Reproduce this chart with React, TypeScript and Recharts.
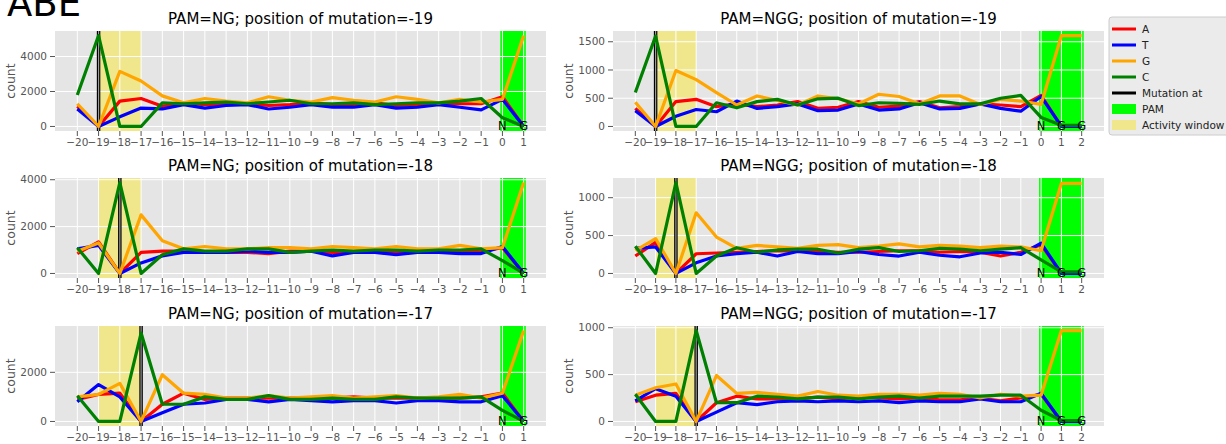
import React from 'react';
import {
  LineChart, Line, XAxis, YAxis, CartesianGrid, ReferenceArea, ReferenceLine, ReferenceDot,
} from 'recharts';

// ---------- data ----------
const positionsNG = [-20, -19, -18, -17, -16, -15, -14, -13, -12, -11, -10, -9, -8, -7, -6, -5, -4, -3, -2, -1, 0, 1];
const positionsNGG = [-20, -19, -18, -17, -16, -15, -14, -13, -12, -11, -10, -9, -8, -7, -6, -5, -4, -3, -2, -1, 0, 1, 2];
const pamLettersNG = ['N', 'G'];
const pamLettersNGG = ['N', 'G', 'G'];
const activityWindow = [-19, -17];
const seriesNames = ['A', 'T', 'G', 'C'];
const seriesColors = ['#FF0000', '#0000FF', '#FFA500', '#008000'];

// PAM=NG, mutation at -19
const ng19A = [1150, 0, 1450, 1600, 1150, 1350, 1250, 1300, 1300, 1200, 1250, 1350, 1250, 1250, 1350, 1200, 1250, 1300, 1300, 1300, 1700, 0];
const ng19T = [1000, 0, 550, 1050, 1000, 1250, 1050, 1200, 1250, 1000, 1100, 1250, 1100, 1100, 1250, 1050, 1100, 1250, 1100, 950, 1550, 0];
const ng19G = [1300, 0, 3150, 2600, 1750, 1350, 1600, 1450, 1350, 1700, 1500, 1400, 1650, 1500, 1400, 1700, 1550, 1350, 1550, 1400, 1550, 5200];
const ng19C = [1800, 5200, 0, 0, 1350, 1300, 1350, 1400, 1300, 1400, 1500, 1300, 1300, 1350, 1250, 1300, 1350, 1350, 1450, 1600, 500, 0];

// PAM=NGG, mutation at -19
const ngg19A = [320, 0, 440, 480, 350, 400, 350, 380, 440, 320, 340, 440, 340, 360, 440, 330, 350, 400, 380, 350, 550, 0, 0];
const ngg19T = [280, 0, 180, 300, 260, 450, 320, 350, 400, 280, 290, 400, 290, 310, 420, 310, 320, 400, 320, 270, 530, 0, 0];
const ngg19G = [430, 0, 990, 830, 600, 380, 540, 460, 380, 540, 490, 400, 570, 530, 400, 540, 540, 390, 480, 450, 390, 1610, 1610];
const ngg19C = [600, 1600, 0, 0, 420, 330, 440, 480, 380, 490, 500, 370, 420, 410, 390, 450, 400, 400, 500, 550, 160, 20, 20];

// PAM=NG, mutation at -18
const ng18A = [850, 1350, 0, 900, 950, 950, 900, 900, 900, 850, 950, 950, 900, 900, 950, 900, 900, 950, 900, 950, 1100, 0];
const ng18T = [1050, 1200, 0, 450, 750, 900, 900, 900, 950, 900, 900, 950, 750, 900, 900, 800, 900, 900, 850, 850, 1150, 0];
const ng18G = [950, 1300, 0, 2500, 1400, 1050, 1150, 1050, 1050, 1100, 1100, 1050, 1150, 1100, 1050, 1150, 1050, 1050, 1200, 1050, 1100, 3880];
const ng18C = [1100, 0, 3880, 0, 800, 1050, 950, 950, 1050, 1050, 900, 950, 1000, 950, 1000, 1000, 950, 1000, 1000, 1050, 550, 0];

// PAM=NGG, mutation at -18
const ngg18A = [230, 410, 0, 260, 270, 280, 290, 300, 290, 290, 280, 280, 290, 300, 300, 280, 290, 280, 230, 280, 380, 0, 0];
const ngg18T = [330, 350, 0, 140, 230, 260, 280, 230, 290, 260, 260, 290, 250, 230, 280, 240, 220, 270, 280, 250, 400, 0, 0];
const ngg18G = [300, 460, 0, 800, 480, 330, 370, 350, 330, 370, 380, 340, 360, 390, 350, 370, 360, 340, 360, 350, 300, 1190, 1190];
const ngg18C = [360, 0, 1200, 0, 230, 340, 280, 310, 320, 320, 270, 320, 340, 290, 300, 330, 320, 300, 320, 340, 180, 20, 20];

// PAM=NG, mutation at -17
const ng17A = [900, 1100, 1150, 0, 700, 1150, 900, 950, 950, 950, 950, 950, 950, 1000, 950, 950, 950, 950, 950, 1000, 1150, 0];
const ng17T = [800, 1500, 1000, 0, 350, 700, 750, 900, 900, 800, 900, 850, 800, 850, 850, 750, 850, 850, 800, 800, 1050, 0];
const ng17G = [1000, 1100, 1550, 0, 1900, 1150, 1100, 950, 950, 1050, 950, 1000, 1050, 950, 1000, 1050, 950, 1000, 1100, 950, 1150, 3700];
const ng17C = [1050, 0, 0, 3600, 700, 700, 1000, 900, 900, 1050, 900, 900, 950, 900, 900, 1000, 950, 950, 950, 1000, 450, 0];

// PAM=NGG, mutation at -17
const ngg17A = [210, 280, 300, 0, 200, 270, 240, 240, 240, 260, 240, 260, 250, 240, 250, 230, 230, 250, 220, 250, 290, 0, 0];
const ngg17T = [220, 350, 270, 0, 100, 200, 180, 210, 220, 210, 220, 210, 220, 200, 220, 210, 210, 240, 210, 210, 300, 0, 0];
const ngg17G = [280, 360, 400, 0, 490, 300, 310, 290, 270, 320, 280, 270, 290, 290, 280, 300, 290, 250, 290, 270, 280, 970, 970];
const ngg17C = [290, 0, 0, 970, 200, 200, 270, 260, 240, 260, 260, 240, 260, 270, 250, 270, 270, 270, 280, 280, 120, 10, 10];

const yTicksNG19 = [0, 2000, 4000];
const yTicksNGG19 = [0, 500, 1000, 1500];
const yTicksNG18 = [0, 2000, 4000];
const yTicksNGG18 = [0, 500, 1000];
const yTicksNG17 = [0, 2000];
const yTicksNGG17 = [0, 500, 1000];

const legendLabels = ['A', 'T', 'G', 'C', 'Mutation at', 'PAM', 'Activity window'];

// ---------- layout ----------
const FONT = '"DejaVu Sans", sans-serif';
const YW = 45;
const XH = 24;
const MT = 10;
const PW = 491;
const PH = 100;
const COL_X = [55, 613];
const ROW_Y = [31, 178, 326];
const TITLE_BASE = [24, 171, 319];

const fmt = (v: number) => String(v).replace('-', '\u2212');

type PanelProps = {
  left: number; top: number; positions: number[]; series: number[][];
  yTicks: number[]; mutation: number; letters: string[]; xDomain: [number, number];
};

function Panel({ left, top, positions, series, yTicks, mutation, letters, xDomain }: PanelProps) {
  const data = positions.map((p, i) => {
    const row: Record<string, number> = { pos: p };
    seriesNames.forEach((n, k) => { row[n] = series[k][i]; });
    return row;
  });
  const maxV = Math.max(...series.flat());
  const yDomain: [number, number] = [-0.05 * maxV, 1.05 * maxV];
  const pamEnd = positions[positions.length - 1];
  const W = YW + PW;
  const H = MT + PH + XH;
  return (
    <div style={{ position: 'absolute', left: left - YW, top: top - MT, width: W, height: H }}>
      <LineChart width={W} height={H} data={data} margin={{ top: MT, right: 0, bottom: 0, left: 0 }}>
        <CartesianGrid fill="#E5E5E5" fillOpacity={1} stroke="none" horizontal={false} vertical={false} />
        <XAxis type="number" dataKey="pos" domain={xDomain} ticks={positions} interval={0} allowDataOverflow
          tickFormatter={fmt} axisLine={false} tickLine={{ stroke: '#555555' }} tickSize={5} tickMargin={3}
          tick={{ fill: '#555555', fontSize: 10.5, fontFamily: FONT }} height={XH} />
        <YAxis type="number" domain={yDomain} ticks={yTicks} interval={0} allowDataOverflow
          axisLine={false} tickLine={{ stroke: '#555555' }} tickSize={5} tickMargin={3}
          tick={{ fill: '#555555', fontSize: 10.5, fontFamily: FONT }} width={YW} />
        <ReferenceArea x1={activityWindow[0]} x2={activityWindow[1]} fill="#F0E68C" fillOpacity={1} stroke="none" />
        <ReferenceArea x1={-0.1} x2={pamEnd + 0.1} fill="#00FF00" fillOpacity={1} stroke="none" />
        {positions.map((p) => (
          <ReferenceLine key={'gx' + p} x={p} stroke="#FFFFFF" strokeWidth={1} />
        ))}
        {yTicks.map((t) => (
          <ReferenceLine key={'gy' + t} y={t} stroke="#FFFFFF" strokeWidth={1} />
        ))}
        <ReferenceLine x={mutation} stroke="#000000" strokeWidth={3.5} />
        <ReferenceLine x={mutation} stroke="#9a9a9a" strokeWidth={1.2} />
        {seriesNames.map((n, k) => (
          <Line key={n} dataKey={n} stroke={seriesColors[k]} strokeWidth={3.2} dot={false}
            isAnimationActive={false} strokeLinejoin="round" />
        ))}
        {letters.map((L, i) => (
          <ReferenceDot key={'L' + i} x={i} y={0} r={1} fill="none" stroke="none"
            shape={(p: any) => (
              <text x={p.cx} y={p.cy} textAnchor="middle" dominantBaseline="central"
                fontSize={11.5} fontFamily={FONT} fill="#000000">{L}</text>
            )} />
        ))}
      </LineChart>
    </div>
  );
}

export default function App() {
  const panels = [
    { title: 'PAM=NG; position of mutation=-19', col: 0, row: 0, positions: positionsNG, series: [ng19A, ng19T, ng19G, ng19C], yTicks: yTicksNG19, mutation: -19, letters: pamLettersNG },
    { title: 'PAM=NGG; position of mutation=-19', col: 1, row: 0, positions: positionsNGG, series: [ngg19A, ngg19T, ngg19G, ngg19C], yTicks: yTicksNGG19, mutation: -19, letters: pamLettersNGG },
    { title: 'PAM=NG; position of mutation=-18', col: 0, row: 1, positions: positionsNG, series: [ng18A, ng18T, ng18G, ng18C], yTicks: yTicksNG18, mutation: -18, letters: pamLettersNG },
    { title: 'PAM=NGG; position of mutation=-18', col: 1, row: 1, positions: positionsNGG, series: [ngg18A, ngg18T, ngg18G, ngg18C], yTicks: yTicksNGG18, mutation: -18, letters: pamLettersNGG },
    { title: 'PAM=NG; position of mutation=-17', col: 0, row: 2, positions: positionsNG, series: [ng17A, ng17T, ng17G, ng17C], yTicks: yTicksNG17, mutation: -17, letters: pamLettersNG },
    { title: 'PAM=NGG; position of mutation=-17', col: 1, row: 2, positions: positionsNGG, series: [ngg17A, ngg17T, ngg17G, ngg17C], yTicks: yTicksNGG17, mutation: -17, letters: pamLettersNGG },
  ];
  const legendX = 1109;
  const legendY = 17;
  return (
    <div style={{ position: 'absolute', left: 0, top: 0, width: 1226, height: 444, background: '#FFFFFF', overflow: 'hidden', fontFamily: FONT }}>
      {panels.map((p, i) => (
        <Panel key={i} left={COL_X[p.col]} top={ROW_Y[p.row]} positions={p.positions} series={p.series}
          yTicks={p.yTicks} mutation={p.mutation} letters={p.letters}
          xDomain={p.col === 0 ? [-21.05, 2.05] : [-21.1, 3.1]} />
      ))}
      <svg width={1226} height={444} style={{ position: 'absolute', left: 0, top: 0, pointerEvents: 'none' }}>
        <text x={7} y={16} fontSize={37} fontFamily={FONT} fill="#000000">ABE</text>
        {panels.map((p, i) => (
          <text key={'t' + i} x={COL_X[p.col] + PW / 2} y={TITLE_BASE[p.row]} textAnchor="middle"
            fontSize={15} fontFamily={FONT} fill="#000000">{p.title}</text>
        ))}
        {panels.map((p, i) => {
          const bx = p.col === 0 ? 15 : 573;
          const cy = ROW_Y[p.row] + PH / 2;
          return (
            <text key={'c' + i} x={bx} y={cy} textAnchor="middle" transform={`rotate(-90 ${bx} ${cy})`}
              fontSize={12.5} fontFamily={FONT} fill="#555555">count</text>
          );
        })}
        <rect x={legendX} y={legendY} width={140} height={118} rx={3} fill="#EBEBEB" stroke="#CCCCCC" strokeWidth={1} />
        {legendLabels.map((lab, i) => {
          const cy = legendY + 12 + i * 16;
          let swatch: React.ReactNode;
          if (i < 4) swatch = <line x1={legendX + 3} x2={legendX + 27} y1={cy} y2={cy} stroke={seriesColors[i]} strokeWidth={3} />;
          else if (i === 4) swatch = <line x1={legendX + 3} x2={legendX + 27} y1={cy} y2={cy} stroke="#000000" strokeWidth={3} />;
          else if (i === 5) swatch = <rect x={legendX + 3} y={cy - 5} width={24} height={10} fill="#00FF00" />;
          else swatch = <rect x={legendX + 3} y={cy - 5} width={24} height={10} fill="#F0E68C" />;
          return (
            <g key={'lg' + i}>
              {swatch}
              <text x={legendX + 33} y={cy + 3.8} fontSize={10.5} fontFamily={FONT} fill="#222222">{lab}</text>
            </g>
          );
        })}
      </svg>
    </div>
  );
}
